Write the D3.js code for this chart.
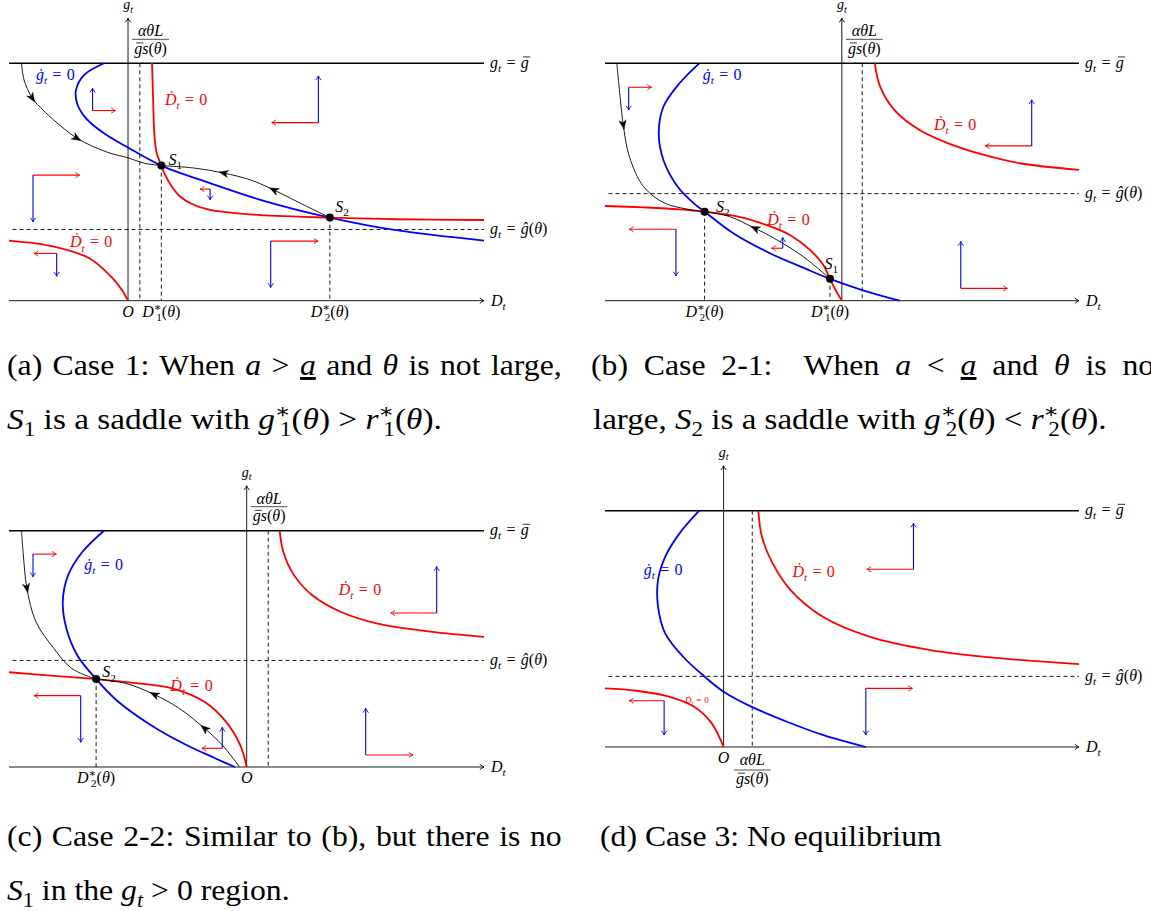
<!DOCTYPE html>
<html>
<head>
<meta charset="utf-8">
<title>Phase diagrams, cases 1-3</title>
<script src="https://cdn.jsdelivr.net/npm/d3@7"></script>
<style>
  body { margin: 0; background: #fff; }
  text { font-family: "Liberation Serif", "DejaVu Serif", serif; white-space: pre; }
</style>
</head>
<body>
<svg id="fig" width="1151" height="911"></svg>
<script>
// Values. D_t is in drawing units (O = 0),
// g_t is scaled so that the ceiling g_t = gbar is 1.
const gAxisTop = 1.19;

// (a) Case 1
const gdotA = [[-0.67,1.0],[-1.22,0.951],[-1.45,0.888],[-1.42,0.831],[-1.17,0.768],[-0.67,0.705],[0,0.645],[0.93,0.569],[2.29,0.495],[3.69,0.425],[5.63,0.350],[7.43,0.298],[9.93,0.253]];
const ddotUpA = [[0.67,1.0],[0.70,0.85],[0.735,0.70],[0.80,0.622],[0.93,0.569],[1.035,0.530],[1.22,0.481],[1.45,0.439],[1.83,0.404],[2.29,0.383],[3.22,0.366],[4.15,0.357],[5.63,0.350],[7.43,0.343],[9.93,0.340]];
const ddotLowA = [[-3.32,0.253],[-2.07,0.228],[-1.07,0.178],[-0.47,0.101],[-0.17,0.045],[0,0]];
const trajA1 = [[-2.97,1.0],[-2.90,0.930],[-2.67,0.853],[-2.37,0.803],[-2.07,0.761],[-1.42,0.684],[-0.57,0.625],[0,0.602],[0.43,0.580],[0.93,0.569]];
const trajA2 = [[5.63,0.350],[4.80,0.411],[4.06,0.467],[3.41,0.509],[2.66,0.538],[1.83,0.559],[0.93,0.569]];
const saddleA = [[0.93,0.569],[5.63,0.350]];
const ghatA = 0.30, ratioA = 0.33;
const flowA = [[-0.99,0.801,0.64,0.094],[5.31,0.750,-1.30,0.197],[-2.65,0.529,1.30,-0.197],[2.29,0.470,-0.28,-0.045],[3.98,0.251,1.32,-0.195],[-1.99,0.199,-0.63,-0.096]];
const tickAtA = [0, 0.93, 5.63];
const tickLabA = ["O", "1", "2"];

// (b) Case 2-1
const gdotB = [[-3.98,1.0],[-4.53,0.916],[-4.98,0.817],[-5.11,0.705],[-4.98,0.593],[-4.58,0.480],[-4.13,0.410],[-3.83,0.375],[-3.03,0.284],[-2.01,0.200],[-1.03,0.136],[-0.33,0.092],[0.57,0.045],[1.62,0]];
const ddotUpB = [[0.92,1.0],[1.07,0.902],[1.47,0.803],[2.17,0.719],[2.97,0.663],[3.97,0.614],[4.97,0.579],[6.62,0.551]];
const ddotLowB = [[-6.61,0.399],[-5.53,0.393],[-4.53,0.385],[-3.83,0.375],[-2.83,0.352],[-2.0,0.313],[-1.45,0.277],[-0.89,0.214],[-0.52,0.151],[-0.33,0.092],[-0.15,0.038],[0,0]];
const trajB1 = [[-6.28,1.0],[-6.18,0.846],[-6.10,0.740],[-5.93,0.607],[-5.53,0.480],[-4.93,0.410],[-3.83,0.375]];
const trajB2 = [[-0.33,0.092],[-1.08,0.186],[-2.01,0.273],[-2.43,0.305],[-3.13,0.354],[-3.83,0.375]];
const saddleB = [[-3.83,0.375],[-0.33,0.092]];
const ghatB = 0.451, ratioB = 0.57;
const flowB = [[-5.95,0.899,0.64,-0.096],[5.30,0.652,-1.30,0.194],[-4.63,0.301,-1.30,-0.197],[-1.65,0.221,-0.31,0.045],[3.32,0.052,1.30,0.197]];
const tickAtB = [-3.83, -0.33];
const tickLabB = ["2", "1"];

// (c) Case 2-2
const gdotC = [[-3.98,1.0],[-4.58,0.911],[-4.98,0.812],[-5.13,0.700],[-5.03,0.587],[-4.73,0.474],[-4.20,0.372],[-3.58,0.276],[-2.68,0.178],[-1.68,0.093],[-0.88,0.037],[-0.33,0]];
const ddotUpC = [[0.92,1.0],[1.02,0.911],[1.32,0.812],[1.82,0.728],[2.62,0.657],[3.62,0.608],[5.12,0.573],[6.62,0.551]];
const ddotLowC = [[-6.63,0.401],[-5.38,0.386],[-4.20,0.372],[-3.08,0.355],[-2.08,0.333],[-1.18,0.276],[-0.58,0.192],[-0.18,0.093],[0,0]];
const trajC1 = [[-6.28,1.0],[-6.23,0.897],[-6.13,0.756],[-5.88,0.615],[-5.38,0.502],[-4.88,0.417],[-4.20,0.372]];
const trajC2 = [[-0.20,0],[-0.68,0.093],[-1.18,0.164],[-1.88,0.248],[-2.58,0.307],[-3.38,0.354],[-4.20,0.372]];
const saddleC = [[-4.20,0.372]];
const ghatC = 0.451, ratioC = 0.60;
const flowC = [[-5.96,0.901,0.65,-0.096],[5.30,0.652,-1.28,0.196],[-4.63,0.302,-1.30,-0.197],[-0.68,0.079,-0.57,0.089],[3.32,0.051,1.32,0.197]];
const tickAtC = [-4.20, 0];
const tickLabC = ["2", "O"];

// (d) Case 3
const gdotD = [[-0.68,1.0],[-1.23,0.904],[-1.63,0.805],[-1.83,0.707],[-1.83,0.594],[-1.63,0.481],[-1.13,0.382],[-0.53,0.298],[0,0.234],[0.77,0.171],[1.77,0.107],[2.77,0.051],[3.97,0]];
const ddotUpD = [[0.97,1.0],[1.07,0.890],[1.37,0.777],[1.87,0.664],[2.77,0.551],[4.07,0.467],[5.77,0.410],[7.77,0.375],[9.92,0.351]];
const ddotLowD = [[-3.31,0.248],[-2.43,0.238],[-1.53,0.213],[-0.83,0.171],[-0.33,0.100],[0,0]];
const ghatD = 0.299, ratioD = 0.80;
const flowD = [[5.30,0.752,-1.30,0.195],[3.97,0.248,1.30,-0.197],[-1.66,0.196,-0.97,-0.145]];
const tickAtD = [0];
const tickLabD = ["O"];

// captions: [text, kind] runs
const capA1 = [["(a) Case 1: When ","r"],["a","i"],[" > ","r"],["a","iu"],[" and ","r"],["θ","i"],[" is not large,","r"]];
const capA2 = [["S","i"],["1","sub"],[" is a saddle with ","r"],["g","i"],["∗","sup"],["1","sub",-0.33],["(","r"],["θ","i"],[") > ","r"],["r","i"],["∗","sup"],["1","sub",-0.33],["(","r"],["θ","i"],[").","r"]];
const capB1 = [["(b) Case 2-1:  When ","r"],["a","i"],[" < ","r"],["a","iu"],[" and ","r"],["θ","i"],[" is not","r"]];
const capB2 = [["large, ","r"],["S","i"],["2","sub"],[" is a saddle with ","r"],["g","i"],["∗","sup"],["2","sub",-0.33],["(","r"],["θ","i"],[") < ","r"],["r","i"],["∗","sup"],["2","sub",-0.33],["(","r"],["θ","i"],[").","r"]];
const capC1 = [["(c) Case 2-2: Similar to (b), but there is no","r"]];
const capC2 = [["S","i"],["1","sub"],[" in the ","r"],["g","i"],["t","isub"],[" > 0 region.","r"]];
const capD1 = [["(d) Case 3: No equilibrium","r"]];

// ---------- drawing ----------
const RED = "#ff0000", BLUE = "#0000ff";
const FS = 16;           // label size inside the diagrams
const EQ = "\u2004=\u2004";
const svg = d3.select("#fig");

// small TeX-like text: runs of roman / italic / sub / sup / barred
function tex(parent, parts, size) {
    const t = parent.append("text").attr("font-size", size);
    let shift = 0, idx = 0;
    parts.forEach(([s, k, dxEm]) => {
        const sp = t.append("tspan").text(s);
        let target = 0;
        if (k === "sub" || k === "isub") target = 0.26 * size;
        if (k === "sup") target = -0.36 * size;
        if (target !== shift) { sp.attr("dy", target - shift); shift = target; }
        if (k === "sub" || k === "isub" || k === "sup") sp.attr("font-size", size * 0.7);
        if (k[0] === "i") sp.attr("font-style", "italic");
        if (k === "io") sp.classed("bar", true).attr("data-i", idx).attr("data-s", size);
        if (k === "iu") sp.style("text-decoration", "underline");
        if (dxEm) sp.attr("dx", dxEm * size);
        idx += s.length;
    });
    return t;
}

// the bar over g, drawn once the text is placed
function drawBars() {
    svg.selectAll("tspan.bar").each(function () {
        const text = this.parentNode;
        const s = +this.getAttribute("data-s");
        const e = text.getExtentOfChar(+this.getAttribute("data-i"));
        const base = e.y + e.height * 0.805;
        d3.select(text.parentNode).append("line")
            .attr("x1", e.x + 0.12 * s).attr("x2", e.x + e.width + 0.08 * s)
            .attr("y1", base - 0.66 * s).attr("y2", base - 0.66 * s)
            .attr("stroke", "#000").attr("stroke-width", 0.05 * s);
    });
}

function head(g, x, y, ang, color, kind) {
    const stealth = kind === "stealth";
    g.append("path")
        .attr("d", stealth ? "M4.5,0 L-4.8,-3.6 L-2.2,0 L-4.8,3.6 Z" : "M-4.2,-2.7 Q-1.6,-0.6 0,0 Q-1.6,0.6 -4.2,2.7")
        .attr("transform", `translate(${x},${y}) rotate(${ang * 180 / Math.PI})`)
        .attr("fill", stealth ? color : "none")
        .attr("stroke", color)
        .attr("stroke-width", stealth ? 0.4 : 0.9);
}

const gdotLab = [["ġ","i"],["t","isub"],[EQ + "0","r"]];
const ddotLab = [["Ḋ","i"],["t","isub"],[EQ + "0","r"]];
const sLab = n => [["S","i"],[n,"sub"]];
const tickParts = n => n === "O" ? [["O","i"]]
    : [["D","i"],["∗","sup"],[n,"sub",-0.33],["(","r"],["θ","i"],[")","r"]];

const panels = [
    { left: 9, right: 484, yBar: 63.3, yAxis: 300.7, dom: [-3.32, 9.93],
      gdot: gdotA, ddot: [ddotUpA, ddotLowA], ghat: ghatA, ratio: ratioA, ratioBelow: false,
      traj: [{ pts: trajA1, heads: [2, 5] }, { pts: trajA2, heads: [2, 4] }],
      saddles: saddleA, flow: flowA, tickAt: tickAtA, tickLab: tickLabA,
      labels: [
        { p: gdotLab, D: -2.57, g: 0.951, c: BLUE },
        { p: ddotLab, D: 1.03, g: 0.846, c: RED },
        { p: ddotLab, D: -1.62, g: 0.246, c: RED },
        { p: sLab("1"), D: 1.13, g: 0.593, c: "#000" },
        { p: sLab("2"), D: 5.78, g: 0.396, c: "#000" }] },
    { left: 605, right: 1079, yBar: 63.3, yAxis: 300.7, dom: [-6.61, 6.62],
      gdot: gdotB, ddot: [ddotUpB, ddotLowB], ghat: ghatB, ratio: ratioB, ratioBelow: false,
      traj: [{ pts: trajB1, heads: [2] }, { pts: trajB2, heads: [3] }],
      saddles: saddleB, flow: flowB, tickAt: tickAtB, tickLab: tickLabB,
      labels: [
        { p: gdotLab, D: -3.88, g: 0.951, c: BLUE },
        { p: ddotLab, D: 2.57, g: 0.740, c: RED },
        { p: ddotLab, D: -2.08, g: 0.340, c: RED },
        { p: sLab("2"), D: -3.51, g: 0.396, c: "#000" },
        { p: sLab("1"), D: -0.48, g: 0.157, c: "#000" }] },
    { left: 9, right: 484, yBar: 530.7, yAxis: 767, dom: [-6.63, 6.62],
      gdot: gdotC, ddot: [ddotUpC, ddotLowC], ghat: ghatC, ratio: ratioC, ratioBelow: false,
      traj: [{ pts: trajC1, heads: [2] }, { pts: trajC2, heads: [2, 4] }],
      saddles: saddleC, flow: flowC, tickAt: tickAtC, tickLab: tickLabC,
      labels: [
        { p: gdotLab, D: -4.53, g: 0.855, c: BLUE },
        { p: ddotLab, D: 2.57, g: 0.749, c: RED },
        { p: ddotLab, D: -2.13, g: 0.343, c: RED },
        { p: sLab("2"), D: -4.03, g: 0.401, c: "#000" }] },
    { left: 605, right: 1079, yBar: 510.7, yAxis: 747, dom: [-3.31, 9.92],
      gdot: gdotD, ddot: [ddotUpD, ddotLowD], ghat: ghatD, ratio: ratioD, ratioBelow: true,
      traj: [], saddles: [], flow: flowD, tickAt: tickAtD, tickLab: tickLabD,
      labels: [
        { p: gdotLab, D: -2.23, g: 0.749, c: BLUE },
        { p: ddotLab, D: 1.92, g: 0.741, c: RED },
        { p: ddotLab, D: -1.08, g: 0.199, c: RED, size: 9 }] }
];

function fraction(g, cx, yNum, yBar, yDen) {
    const fs = 16;
    const num = tex(g, [["αθL","i"]], fs).attr("x", cx).attr("y", yNum).attr("text-anchor", "middle");
    const den = tex(g, [["g","io"],["s","i"],["(","r"],["θ","i"],[")","r"]], fs)
        .attr("x", cx).attr("y", yDen).attr("text-anchor", "middle");
    const w = Math.max(num.node().getComputedTextLength(), den.node().getComputedTextLength()) + 4;
    g.append("line").attr("x1", cx - w / 2).attr("x2", cx + w / 2).attr("y1", yBar).attr("y2", yBar)
        .attr("stroke", "#000").attr("stroke-width", 0.7);
}

function drawPanel(P) {
    const x = d3.scaleLinear().domain(P.dom).range([P.left, P.right]);
    const y = d3.scaleLinear().domain([0, 1]).range([P.yAxis, P.yBar]);
    const line = d3.line().x(d => x(d[0])).y(d => y(d[1])).curve(d3.curveCatmullRom.alpha(0.5));
    const g = svg.append("g");

    // dashed guides: g-hat level, the alpha*theta*L / (gbar s) line, drops from saddles
    const dash = g.append("g").attr("stroke", "#000").attr("stroke-width", 0.9).attr("stroke-dasharray", "4 3");
    dash.append("line").attr("x1", P.left + 3.5).attr("x2", P.right).attr("y1", y(P.ghat)).attr("y2", y(P.ghat));
    dash.append("line").attr("x1", x(P.ratio)).attr("x2", x(P.ratio)).attr("y1", y(1)).attr("y2", y(0));
    dash.selectAll(".drop").data(P.saddles).join("line")
        .attr("x1", d => x(d[0])).attr("x2", d => x(d[0]))
        .attr("y1", d => y(d[1])).attr("y2", y(0));

    // axes and the ceiling g_t = gbar
    g.append("line").attr("x1", P.left).attr("x2", P.right).attr("y1", y(0)).attr("y2", y(0))
        .attr("stroke", "#000").attr("stroke-width", 0.9);
    head(g, P.right, y(0), 0, "#000", "to");
    g.append("line").attr("x1", x(0)).attr("x2", x(0)).attr("y1", y(0)).attr("y2", y(gAxisTop))
        .attr("stroke", "#000").attr("stroke-width", 0.9);
    head(g, x(0), y(gAxisTop), -Math.PI / 2, "#000", "to");
    g.append("line").attr("x1", P.left).attr("x2", P.right).attr("y1", y(1)).attr("y2", y(1))
        .attr("stroke", "#000").attr("stroke-width", 1.6);

    // nullclines
    g.append("path").datum(P.gdot).attr("d", line).attr("fill", "none")
        .attr("stroke", BLUE).attr("stroke-width", 1.8);
    P.ddot.forEach(c => g.append("path").datum(c).attr("d", line).attr("fill", "none")
        .attr("stroke", RED).attr("stroke-width", 1.8));

    // saddle paths with arrowheads in the direction of motion
    P.traj.forEach(tr => {
        g.append("path").datum(tr.pts).attr("d", line).attr("fill", "none")
            .attr("stroke", "#000").attr("stroke-width", 0.9);
        tr.heads.forEach(i => {
            const a = tr.pts[i - 1], b = tr.pts[i + 1];
            const ang = Math.atan2(y(b[1]) - y(a[1]), x(b[0]) - x(a[0]));
            head(g, x(tr.pts[i][0]), y(tr.pts[i][1]), ang, "#000", "stealth");
        });
    });

    // direction-of-motion glyphs: red = dD, blue = dg
    P.flow.forEach(([D, gv, dx, dgv]) => {
        const cx = x(D), cy = y(gv), ex = x(D + dx), ey = y(gv + dgv);
        g.append("line").attr("x1", cx).attr("x2", ex).attr("y1", cy).attr("y2", cy)
            .attr("stroke", RED).attr("stroke-width", 1.1);
        head(g, ex, cy, dx > 0 ? 0 : Math.PI, RED, "to");
        g.append("line").attr("x1", cx).attr("x2", cx).attr("y1", cy).attr("y2", ey)
            .attr("stroke", BLUE).attr("stroke-width", 1.1);
        head(g, cx, ey, dgv > 0 ? -Math.PI / 2 : Math.PI / 2, BLUE, "to");
    });

    g.selectAll(".saddle").data(P.saddles).join("circle")
        .attr("cx", d => x(d[0])).attr("cy", d => y(d[1])).attr("r", 4).attr("fill", "#000");

    // right-hand labels
    tex(g, [["g","i"],["t","isub"],[EQ,"r"],["g","io"]], FS).attr("x", P.right + 6).attr("y", y(1) + 4.5);
    tex(g, [["g","i"],["t","isub"],[EQ,"r"],["ĝ","i"],["(","r"],["θ","i"],[")","r"]], FS)
        .attr("x", P.right + 6).attr("y", y(P.ghat) + 4.5);
    tex(g, [["D","i"],["t","isub"]], FS).attr("x", P.right + 7).attr("y", y(0) + 5);
    tex(g, [["g","i"],["t","isub"]], 14).attr("x", x(0)).attr("y", y(gAxisTop) - 9).attr("text-anchor", "middle");

    // tick labels under the axis
    P.tickAt.forEach((d, i) => {
        tex(g, tickParts(P.tickLab[i]), FS).attr("x", x(d)).attr("y", y(0) + 16).attr("text-anchor", "middle");
    });

    if (P.ratioBelow) fraction(g, x(P.ratio), y(0) + 18, y(0) + 23, y(0) + 37);
    else fraction(g, x(0) + 22.5, y(1) - 27, y(1) - 24, y(1) - 9.5);

    P.labels.forEach(l => {
        const s = l.size || FS;
        tex(g, l.p, s).attr("x", x(l.D)).attr("y", y(l.g) + 0.32 * s).attr("fill", l.c);
    });
}

panels.forEach(drawPanel);
drawBars();

// captions, stretched to the widths of the original typesetting
const CS = 29;
const captions = [
    { p: capA1, x: 7, y: 375, w: 554.7 },
    { p: capA2, x: 7, y: 428.5 },
    { p: capB1, x: 591, y: 375, w: 572 },
    { p: capB2, x: 593, y: 428.5 },
    { p: capC1, x: 7, y: 846, w: 554.7 },
    { p: capC2, x: 7, y: 899.5 },
    { p: capD1, x: 600, y: 846 }
];
const capNodes = captions.map(c => tex(svg, c.p, CS).attr("x", c.x).attr("y", c.y));
const k = 341.7 / capNodes[6].node().getComputedTextLength();
captions.forEach((c, i) => {
    const t = capNodes[i];
    const w0 = t.node().getComputedTextLength();
    if (c.w) {
        const n = c.p.map(r => r[0]).join("").split(" ").length - 1;
        t.style("word-spacing", `${(c.w / k - w0) / n}px`);
        t.attr("textLength", c.w).attr("lengthAdjust", "spacingAndGlyphs");
    } else {
        t.attr("textLength", w0 * k).attr("lengthAdjust", "spacingAndGlyphs");
    }
});
</script>
</body>
</html>
